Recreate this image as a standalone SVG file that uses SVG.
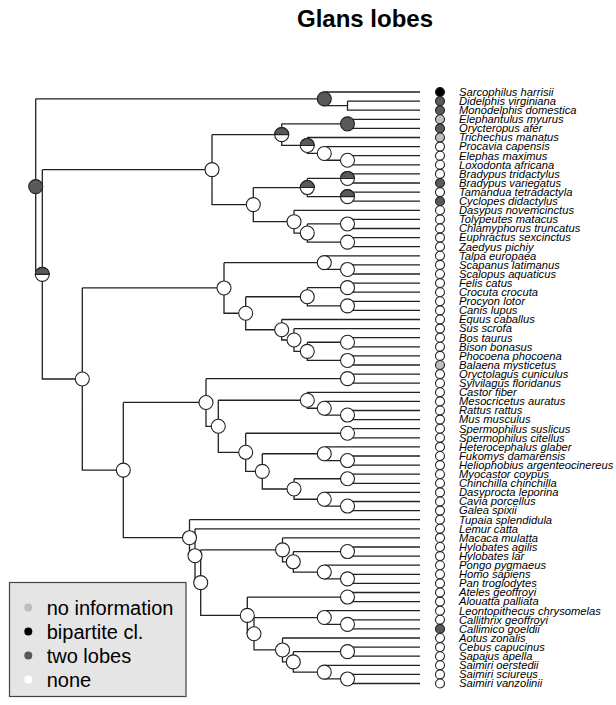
<svg xmlns="http://www.w3.org/2000/svg" xmlns:xlink="http://www.w3.org/1999/xlink" width="616" height="705" viewBox="0 0 616 705">
<style>
.br{fill:none;stroke:#222;stroke-width:1.3}
.nd{stroke:#222;stroke-width:1.1}
.w{fill:#fff}.d{fill:#595959}.b{fill:#000}.g{fill:#bebebe}
.tl{font-family:"Liberation Sans",Arial,sans-serif;font-style:italic;font-size:11.2px;fill:#000}
.lg{font-family:"Liberation Sans",Arial,sans-serif;font-size:20px;fill:#000}
.title{font-family:"Liberation Sans",Arial,sans-serif;font-size:24px;font-weight:bold;fill:#000}
</style>
<defs>
<g id="half"><circle r="7" class="nd w"/><path d="M-7,0 A7,7 0 0 1 7,0 Z" class="nd d"/></g>
<circle id="wn" r="7" class="nd w"/>
<circle id="dn" r="7" class="nd d"/>
</defs>
<rect width="616" height="705" fill="#fff"/>
<text x="365" y="27" text-anchor="middle" class="title">Glans lobes</text>

<g id="connectors" class="br">
<path d="M35.7 98.83V274.33M35.7 98.83H324.3M35.7 274.33H42.3
M324.3 92V105.65H347.5M324.3 92H420M347.5 101.1V110.2H420M347.5 101.1H420
M42.3 169.64V379.02H82.3M42.3 169.64H212
M212 134.66V204.61H253.3M212 134.66H281.7
M281.7 123.85V145.46H307.3M281.7 123.85H347.5
M347.5 119.3V128.4H420M347.5 119.3H420
M307.3 137.5V153.43H324.3M307.3 137.5H420
M324.3 146.6V160.25H347.5M324.3 146.6H420
M347.5 155.7V164.8H420M347.5 155.7H420
M253.3 187.55V221.68H294M253.3 187.55H307.3
M307.3 178.45V196.65H347.5M307.3 178.45H347.5
M347.5 173.9V183H420M347.5 173.9H420
M347.5 192.1V201.2H420M347.5 192.1H420
M294 210.3V233.05H307.3M294 210.3H420
M307.3 223.95V242.15H347.5M307.3 223.95H347.5
M347.5 219.4V228.5H420M347.5 219.4H420
M347.5 237.6V246.7H420M347.5 237.6H420
M82.3 287.94V470.09H123.3M82.3 287.94H224
M224 262.63V313.24H245.7M224 262.63H324.3
M324.3 255.8V269.45H347.5M324.3 255.8H420
M347.5 264.9V274H420M347.5 264.9H420
M245.7 296.75V329.74H281.7M245.7 296.75H307.3
M307.3 287.65V305.85H347.5M307.3 287.65H347.5
M347.5 283.1V292.2H420M347.5 283.1H420
M347.5 301.3V310.4H420M347.5 301.3H420
M281.7 319.5V339.98H294M281.7 319.5H420
M294 328.6V351.35H307.3M294 328.6H420
M307.3 342.25V360.45H347.5M307.3 342.25H347.5
M347.5 337.7V346.8H420M347.5 337.7H420
M347.5 355.9V365H420M347.5 355.9H420
M123.3 402.47V537.71H189.5M123.3 402.47H206
M206 378.65V426.28H218.3M206 378.65H347.5
M347.5 374.1V383.2H420M347.5 374.1H420
M218.3 400.26V452.3H245.7M218.3 400.26H307.3
M307.3 392.3V408.23H324.3M307.3 392.3H420
M324.3 401.4V415.05H347.5M324.3 401.4H420
M347.5 410.5V419.6H420M347.5 410.5H420
M245.7 433.25V471.36H262.3M245.7 433.25H347.5
M347.5 428.7V437.8H420M347.5 428.7H420
M262.3 453.73V488.99H294M262.3 453.73H324.3
M324.3 446.9V460.55H347.5M324.3 446.9H420
M347.5 456V465.1H420M347.5 456H420
M294 478.75V499.23H324.3M294 478.75H347.5
M347.5 474.2V483.3H420M347.5 474.2H420
M324.3 492.4V506.05H347.5M324.3 492.4H420
M347.5 501.5V510.6H420M347.5 501.5H420
M189.5 519.7V555.71H195M189.5 519.7H420
M195 528.8V582.63H200.7M195 528.8H420
M200.7 549.85V615.4H247.3M200.7 549.85H282.5
M282.5 537.9V561.79H293.3M282.5 537.9H420
M293.3 551.55V572.03H324.3M293.3 551.55H347.5
M347.5 547V556.1H420M347.5 547H420
M324.3 565.2V578.85H347.5M324.3 565.2H420
M347.5 574.3V583.4H420M347.5 574.3H420
M247.3 597.05V633.74H254M247.3 597.05H347.5
M347.5 592.5V601.6H420M347.5 592.5H420
M254 617.53V649.95H282.5M254 617.53H324.3
M324.3 610.7V624.35H347.5M324.3 610.7H420
M347.5 619.8V628.9H420M347.5 619.8H420
M282.5 638V661.89H293.3M282.5 638H420
M293.3 651.65V672.13H324.3M293.3 651.65H347.5
M347.5 647.1V656.2H420M347.5 647.1H420
M324.3 665.3V678.95H347.5M324.3 665.3H420
M347.5 674.4V683.5H420M347.5 674.4H420"/>
</g>

<g id="internal-nodes">
<g id="n-root"><use xlink:href="#dn" x="35.7" y="186.58"/></g>
<g id="n-marsupialia"><use xlink:href="#dn" x="324.3" y="98.83"/></g>
<g id="n-placentalia"><use xlink:href="#half" x="42.3" y="274.33"/></g>
<g id="n-atlantogenata"><use xlink:href="#wn" x="212" y="169.64"/></g>
<g id="n-afrotheria"><use xlink:href="#half" x="281.7" y="134.66"/></g>
<g id="n-afroinsectiphilia"><use xlink:href="#dn" x="347.5" y="123.85"/></g>
<g id="n-paenungulata"><use xlink:href="#half" x="307.3" y="145.46"/></g>
<g id="n-procavia-elephants"><use xlink:href="#wn" x="324.3" y="153.43"/></g>
<g id="n-elephants"><use xlink:href="#wn" x="347.5" y="160.25"/></g>
<g id="n-xenarthra"><use xlink:href="#wn" x="253.3" y="204.61"/></g>
<g id="n-pilosa"><use xlink:href="#half" x="307.3" y="187.55"/></g>
<g id="n-bradypus"><use xlink:href="#half" x="347.5" y="178.45"/></g>
<g id="n-vermilingua"><use xlink:href="#half" x="347.5" y="196.65"/></g>
<g id="n-cingulata"><use xlink:href="#wn" x="294" y="221.68"/></g>
<g id="n-chlamyphoridae"><use xlink:href="#wn" x="307.3" y="233.05"/></g>
<g id="n-tolypeutes-chlamyphorus"><use xlink:href="#wn" x="347.5" y="223.95"/></g>
<g id="n-euphractus-zaedyus"><use xlink:href="#wn" x="347.5" y="242.15"/></g>
<g id="n-boreoeutheria"><use xlink:href="#wn" x="82.3" y="379.02"/></g>
<g id="n-laurasiatheria"><use xlink:href="#wn" x="224" y="287.94"/></g>
<g id="n-eulipotyphla"><use xlink:href="#wn" x="324.3" y="262.63"/></g>
<g id="n-scapanus-scalopus"><use xlink:href="#wn" x="347.5" y="269.45"/></g>
<g id="n-ferungulata"><use xlink:href="#wn" x="245.7" y="313.24"/></g>
<g id="n-carnivora"><use xlink:href="#wn" x="307.3" y="296.75"/></g>
<g id="n-felis-crocuta"><use xlink:href="#wn" x="347.5" y="287.65"/></g>
<g id="n-procyon-canis"><use xlink:href="#wn" x="347.5" y="305.85"/></g>
<g id="n-euungulata"><use xlink:href="#wn" x="281.7" y="329.74"/></g>
<g id="n-artiodactyla"><use xlink:href="#wn" x="294" y="339.98"/></g>
<g id="n-ruminantia-cetacea"><use xlink:href="#wn" x="307.3" y="351.35"/></g>
<g id="n-bos-bison"><use xlink:href="#wn" x="347.5" y="342.25"/></g>
<g id="n-cetacea"><use xlink:href="#wn" x="347.5" y="360.45"/></g>
<g id="n-euarchontoglires"><use xlink:href="#wn" x="123.3" y="470.09"/></g>
<g id="n-glires"><use xlink:href="#wn" x="206" y="402.47"/></g>
<g id="n-lagomorpha"><use xlink:href="#wn" x="347.5" y="378.65"/></g>
<g id="n-rodentia"><use xlink:href="#wn" x="218.3" y="426.28"/></g>
<g id="n-castor-muroids"><use xlink:href="#wn" x="307.3" y="400.26"/></g>
<g id="n-muroidea"><use xlink:href="#wn" x="324.3" y="408.23"/></g>
<g id="n-rattus-mus"><use xlink:href="#wn" x="347.5" y="415.05"/></g>
<g id="n-squirrels-hystricomorphs"><use xlink:href="#wn" x="245.7" y="452.3"/></g>
<g id="n-spermophilus"><use xlink:href="#wn" x="347.5" y="433.25"/></g>
<g id="n-hystricomorpha"><use xlink:href="#wn" x="262.3" y="471.36"/></g>
<g id="n-bathyergidae"><use xlink:href="#wn" x="324.3" y="453.73"/></g>
<g id="n-fukomys-heliophobius"><use xlink:href="#wn" x="347.5" y="460.55"/></g>
<g id="n-caviomorpha"><use xlink:href="#wn" x="294" y="488.99"/></g>
<g id="n-myocastor-chinchilla"><use xlink:href="#wn" x="347.5" y="478.75"/></g>
<g id="n-dasyprocta-caviids"><use xlink:href="#wn" x="324.3" y="499.23"/></g>
<g id="n-cavia-galea"><use xlink:href="#wn" x="347.5" y="506.05"/></g>
<g id="n-euarchonta"><use xlink:href="#wn" x="189.5" y="537.71"/></g>
<g id="n-primates"><use xlink:href="#wn" x="195" y="555.71"/></g>
<g id="n-anthropoidea"><use xlink:href="#wn" x="200.7" y="582.63"/></g>
<g id="n-catarrhini"><use xlink:href="#wn" x="282.5" y="549.85"/></g>
<g id="n-hominoidea"><use xlink:href="#wn" x="293.3" y="561.79"/></g>
<g id="n-hylobates"><use xlink:href="#wn" x="347.5" y="551.55"/></g>
<g id="n-hominidae"><use xlink:href="#wn" x="324.3" y="572.03"/></g>
<g id="n-homo-pan"><use xlink:href="#wn" x="347.5" y="578.85"/></g>
<g id="n-platyrrhini"><use xlink:href="#wn" x="247.3" y="615.4"/></g>
<g id="n-atelidae"><use xlink:href="#wn" x="347.5" y="597.05"/></g>
<g id="n-cebidae"><use xlink:href="#wn" x="254" y="633.74"/></g>
<g id="n-callitrichidae"><use xlink:href="#wn" x="324.3" y="617.53"/></g>
<g id="n-callithrix-callimico"><use xlink:href="#wn" x="347.5" y="624.35"/></g>
<g id="n-aotus-cebinae"><use xlink:href="#wn" x="282.5" y="649.95"/></g>
<g id="n-cebinae-saimiriinae"><use xlink:href="#wn" x="293.3" y="661.89"/></g>
<g id="n-cebus-sapajus"><use xlink:href="#wn" x="347.5" y="651.65"/></g>
<g id="n-saimiri"><use xlink:href="#wn" x="324.3" y="672.13"/></g>
<g id="n-saimiri-sc-va"><use xlink:href="#wn" x="347.5" y="678.95"/></g>
</g>

<g id="tips">
<g id="t01" transform="translate(0,92)"><circle cx="440" r="4.5" class="nd b"/><text x="459" y="3.8" class="tl">Sarcophilus harrisii</text></g>
<g id="t02" transform="translate(0,101.1)"><circle cx="440" r="4.5" class="nd d"/><text x="459" y="3.8" class="tl">Didelphis virginiana</text></g>
<g id="t03" transform="translate(0,110.2)"><circle cx="440" r="4.5" class="nd d"/><text x="459" y="3.8" class="tl">Monodelphis domestica</text></g>
<g id="t04" transform="translate(0,119.3)"><circle cx="440" r="4.5" class="nd g"/><text x="459" y="3.8" class="tl">Elephantulus myurus</text></g>
<g id="t05" transform="translate(0,128.4)"><circle cx="440" r="4.5" class="nd d"/><text x="459" y="3.8" class="tl">Orycteropus afer</text></g>
<g id="t06" transform="translate(0,137.5)"><circle cx="440" r="4.5" class="nd g"/><text x="459" y="3.8" class="tl">Trichechus manatus</text></g>
<g id="t07" transform="translate(0,146.6)"><circle cx="440" r="4.5" class="nd w"/><text x="459" y="3.8" class="tl">Procavia capensis</text></g>
<g id="t08" transform="translate(0,155.7)"><circle cx="440" r="4.5" class="nd w"/><text x="459" y="3.8" class="tl">Elephas maximus</text></g>
<g id="t09" transform="translate(0,164.8)"><circle cx="440" r="4.5" class="nd w"/><text x="459" y="3.8" class="tl">Loxodonta africana</text></g>
<g id="t10" transform="translate(0,173.9)"><circle cx="440" r="4.5" class="nd w"/><text x="459" y="3.8" class="tl">Bradypus tridactylus</text></g>
<g id="t11" transform="translate(0,183)"><circle cx="440" r="4.5" class="nd d"/><text x="459" y="3.8" class="tl">Bradypus variegatus</text></g>
<g id="t12" transform="translate(0,192.1)"><circle cx="440" r="4.5" class="nd w"/><text x="459" y="3.8" class="tl">Tamandua tetradactyla</text></g>
<g id="t13" transform="translate(0,201.2)"><circle cx="440" r="4.5" class="nd d"/><text x="459" y="3.8" class="tl">Cyclopes didactylus</text></g>
<g id="t14" transform="translate(0,210.3)"><circle cx="440" r="4.5" class="nd w"/><text x="459" y="3.8" class="tl">Dasypus novemcinctus</text></g>
<g id="t15" transform="translate(0,219.4)"><circle cx="440" r="4.5" class="nd w"/><text x="459" y="3.8" class="tl">Tolypeutes matacus</text></g>
<g id="t16" transform="translate(0,228.5)"><circle cx="440" r="4.5" class="nd w"/><text x="459" y="3.8" class="tl">Chlamyphorus truncatus</text></g>
<g id="t17" transform="translate(0,237.6)"><circle cx="440" r="4.5" class="nd w"/><text x="459" y="3.8" class="tl">Euphractus sexcinctus</text></g>
<g id="t18" transform="translate(0,246.7)"><circle cx="440" r="4.5" class="nd w"/><text x="459" y="3.8" class="tl">Zaedyus pichiy</text></g>
<g id="t19" transform="translate(0,255.8)"><circle cx="440" r="4.5" class="nd w"/><text x="459" y="3.8" class="tl">Talpa europaea</text></g>
<g id="t20" transform="translate(0,264.9)"><circle cx="440" r="4.5" class="nd w"/><text x="459" y="3.8" class="tl">Scapanus latimanus</text></g>
<g id="t21" transform="translate(0,274)"><circle cx="440" r="4.5" class="nd w"/><text x="459" y="3.8" class="tl">Scalopus aquaticus</text></g>
<g id="t22" transform="translate(0,283.1)"><circle cx="440" r="4.5" class="nd w"/><text x="459" y="3.8" class="tl">Felis catus</text></g>
<g id="t23" transform="translate(0,292.2)"><circle cx="440" r="4.5" class="nd w"/><text x="459" y="3.8" class="tl">Crocuta crocuta</text></g>
<g id="t24" transform="translate(0,301.3)"><circle cx="440" r="4.5" class="nd w"/><text x="459" y="3.8" class="tl">Procyon lotor</text></g>
<g id="t25" transform="translate(0,310.4)"><circle cx="440" r="4.5" class="nd w"/><text x="459" y="3.8" class="tl">Canis lupus</text></g>
<g id="t26" transform="translate(0,319.5)"><circle cx="440" r="4.5" class="nd w"/><text x="459" y="3.8" class="tl">Equus caballus</text></g>
<g id="t27" transform="translate(0,328.6)"><circle cx="440" r="4.5" class="nd w"/><text x="459" y="3.8" class="tl">Sus scrofa</text></g>
<g id="t28" transform="translate(0,337.7)"><circle cx="440" r="4.5" class="nd w"/><text x="459" y="3.8" class="tl">Bos taurus</text></g>
<g id="t29" transform="translate(0,346.8)"><circle cx="440" r="4.5" class="nd w"/><text x="459" y="3.8" class="tl">Bison bonasus</text></g>
<g id="t30" transform="translate(0,355.9)"><circle cx="440" r="4.5" class="nd w"/><text x="459" y="3.8" class="tl">Phocoena phocoena</text></g>
<g id="t31" transform="translate(0,365)"><circle cx="440" r="4.5" class="nd g"/><text x="459" y="3.8" class="tl">Balaena mysticetus</text></g>
<g id="t32" transform="translate(0,374.1)"><circle cx="440" r="4.5" class="nd w"/><text x="459" y="3.8" class="tl">Oryctolagus cuniculus</text></g>
<g id="t33" transform="translate(0,383.2)"><circle cx="440" r="4.5" class="nd w"/><text x="459" y="3.8" class="tl">Sylvilagus floridanus</text></g>
<g id="t34" transform="translate(0,392.3)"><circle cx="440" r="4.5" class="nd w"/><text x="459" y="3.8" class="tl">Castor fiber</text></g>
<g id="t35" transform="translate(0,401.4)"><circle cx="440" r="4.5" class="nd w"/><text x="459" y="3.8" class="tl">Mesocricetus auratus</text></g>
<g id="t36" transform="translate(0,410.5)"><circle cx="440" r="4.5" class="nd w"/><text x="459" y="3.8" class="tl">Rattus rattus</text></g>
<g id="t37" transform="translate(0,419.6)"><circle cx="440" r="4.5" class="nd w"/><text x="459" y="3.8" class="tl">Mus musculus</text></g>
<g id="t38" transform="translate(0,428.7)"><circle cx="440" r="4.5" class="nd w"/><text x="459" y="3.8" class="tl">Spermophilus suslicus</text></g>
<g id="t39" transform="translate(0,437.8)"><circle cx="440" r="4.5" class="nd w"/><text x="459" y="3.8" class="tl">Spermophilus citellus</text></g>
<g id="t40" transform="translate(0,446.9)"><circle cx="440" r="4.5" class="nd w"/><text x="459" y="3.8" class="tl">Heterocephalus glaber</text></g>
<g id="t41" transform="translate(0,456)"><circle cx="440" r="4.5" class="nd w"/><text x="459" y="3.8" class="tl">Fukomys damarensis</text></g>
<g id="t42" transform="translate(0,465.1)"><circle cx="440" r="4.5" class="nd w"/><text x="459" y="3.8" class="tl">Heliophobius argenteocinereus</text></g>
<g id="t43" transform="translate(0,474.2)"><circle cx="440" r="4.5" class="nd w"/><text x="459" y="3.8" class="tl">Myocastor coypus</text></g>
<g id="t44" transform="translate(0,483.3)"><circle cx="440" r="4.5" class="nd w"/><text x="459" y="3.8" class="tl">Chinchilla chinchilla</text></g>
<g id="t45" transform="translate(0,492.4)"><circle cx="440" r="4.5" class="nd w"/><text x="459" y="3.8" class="tl">Dasyprocta leporina</text></g>
<g id="t46" transform="translate(0,501.5)"><circle cx="440" r="4.5" class="nd w"/><text x="459" y="3.8" class="tl">Cavia porcellus</text></g>
<g id="t47" transform="translate(0,510.6)"><circle cx="440" r="4.5" class="nd w"/><text x="459" y="3.8" class="tl">Galea spixii</text></g>
<g id="t48" transform="translate(0,519.7)"><circle cx="440" r="4.5" class="nd w"/><text x="459" y="3.8" class="tl">Tupaia splendidula</text></g>
<g id="t49" transform="translate(0,528.8)"><circle cx="440" r="4.5" class="nd w"/><text x="459" y="3.8" class="tl">Lemur catta</text></g>
<g id="t50" transform="translate(0,537.9)"><circle cx="440" r="4.5" class="nd w"/><text x="459" y="3.8" class="tl">Macaca mulatta</text></g>
<g id="t51" transform="translate(0,547)"><circle cx="440" r="4.5" class="nd w"/><text x="459" y="3.8" class="tl">Hylobates agilis</text></g>
<g id="t52" transform="translate(0,556.1)"><circle cx="440" r="4.5" class="nd w"/><text x="459" y="3.8" class="tl">Hylobates lar</text></g>
<g id="t53" transform="translate(0,565.2)"><circle cx="440" r="4.5" class="nd w"/><text x="459" y="3.8" class="tl">Pongo pygmaeus</text></g>
<g id="t54" transform="translate(0,574.3)"><circle cx="440" r="4.5" class="nd w"/><text x="459" y="3.8" class="tl">Homo sapiens</text></g>
<g id="t55" transform="translate(0,583.4)"><circle cx="440" r="4.5" class="nd w"/><text x="459" y="3.8" class="tl">Pan troglodytes</text></g>
<g id="t56" transform="translate(0,592.5)"><circle cx="440" r="4.5" class="nd w"/><text x="459" y="3.8" class="tl">Ateles geoffroyi</text></g>
<g id="t57" transform="translate(0,601.6)"><circle cx="440" r="4.5" class="nd w"/><text x="459" y="3.8" class="tl">Alouatta palliata</text></g>
<g id="t58" transform="translate(0,610.7)"><circle cx="440" r="4.5" class="nd w"/><text x="459" y="3.8" class="tl">Leontopithecus chrysomelas</text></g>
<g id="t59" transform="translate(0,619.8)"><circle cx="440" r="4.5" class="nd w"/><text x="459" y="3.8" class="tl">Callithrix geoffroyi</text></g>
<g id="t60" transform="translate(0,628.9)"><circle cx="440" r="4.5" class="nd d"/><text x="459" y="3.8" class="tl">Callimico goeldii</text></g>
<g id="t61" transform="translate(0,638)"><circle cx="440" r="4.5" class="nd w"/><text x="459" y="3.8" class="tl">Aotus zonalis</text></g>
<g id="t62" transform="translate(0,647.1)"><circle cx="440" r="4.5" class="nd w"/><text x="459" y="3.8" class="tl">Cebus capucinus</text></g>
<g id="t63" transform="translate(0,656.2)"><circle cx="440" r="4.5" class="nd w"/><text x="459" y="3.8" class="tl">Sapajus apella</text></g>
<g id="t64" transform="translate(0,665.3)"><circle cx="440" r="4.5" class="nd w"/><text x="459" y="3.8" class="tl">Saimiri oerstedii</text></g>
<g id="t65" transform="translate(0,674.4)"><circle cx="440" r="4.5" class="nd w"/><text x="459" y="3.8" class="tl">Saimiri sciureus</text></g>
<g id="t66" transform="translate(0,683.5)"><circle cx="440" r="4.5" class="nd w"/><text x="459" y="3.8" class="tl">Saimiri vanzolinii</text></g>
</g>

<g id="legend">
<rect x="9.5" y="582.5" width="176.5" height="114" fill="#e5e5e5" stroke="#444" stroke-width="1.2"/>
<circle cx="28.3" cy="607.5" r="4" fill="#bebebe"/>
<text x="46.7" y="614.5" class="lg">no information</text>
<circle cx="28.3" cy="631.5" r="4" fill="#000"/>
<text x="46.7" y="638.5" class="lg">bipartite cl.</text>
<circle cx="28.3" cy="655.5" r="4" fill="#595959"/>
<text x="46.7" y="662.5" class="lg">two lobes</text>
<circle cx="28.3" cy="679.5" r="4" fill="#fff"/>
<text x="46.7" y="686.5" class="lg">none</text>
</g>
</svg>
